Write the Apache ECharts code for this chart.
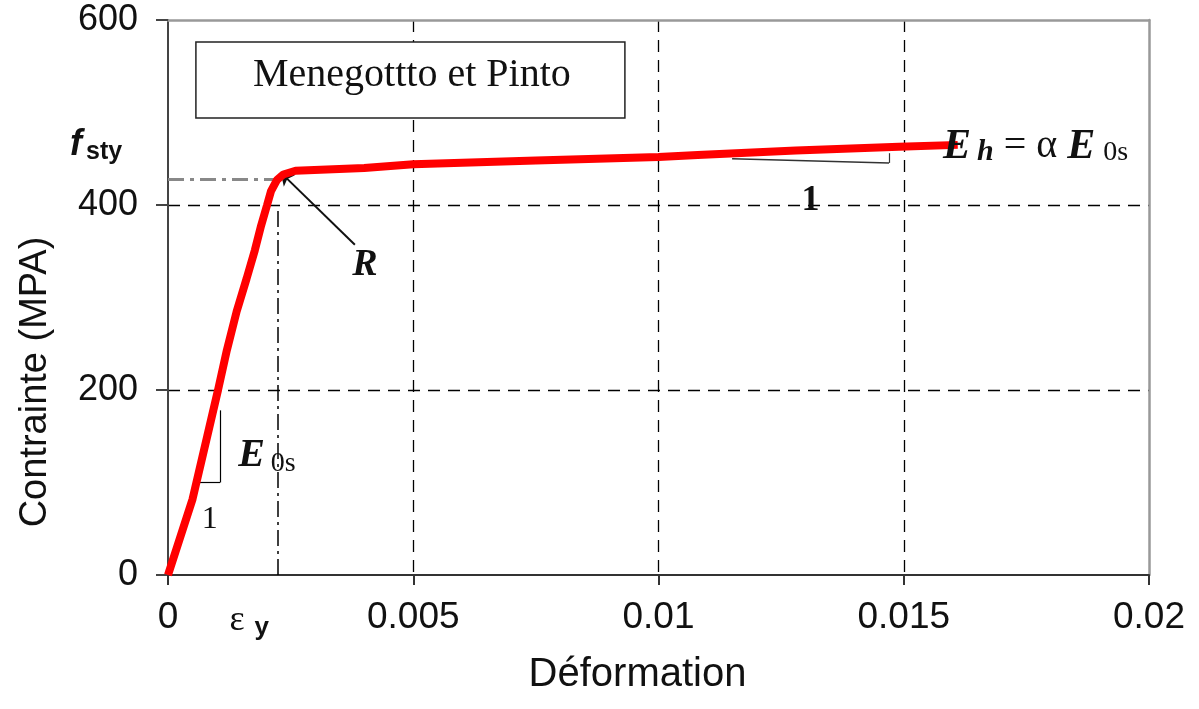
<!DOCTYPE html>
<html lang="fr">
<head>
    <meta charset="utf-8">
    <title>Menegotto et Pinto</title>
    <script type="text/javascript" src="https://cdn.jsdelivr.net/npm/echarts@6/dist/echarts.min.js"></script>
    <style>
        html, body { margin: 0; padding: 0; background: #fff; }
        #main { width: 1199px; height: 709px; }
    </style>
</head>
<body>
<div id="main"></div>

<script>
    // courbe contrainte / deformation
    var strain = [0, 0.0005, 0.0008, 0.00102, 0.0012, 0.0014, 0.0016, 0.00177, 0.0019,
        0.00202, 0.0021, 0.00222, 0.00235, 0.0026, 0.004, 0.005, 0.0075, 0.01, 0.0108,
        0.0128, 0.0149, 0.0161];
    var stress = [0, 82, 150, 200, 243, 285, 320, 351, 378,
        400, 415, 427, 433, 437, 440, 444, 448, 452, 454,
        459, 463, 465];

    var xTicks = [0, 0.005, 0.01, 0.015, 0.02];
    var yTicks = [0, 200, 400, 600];

    // annotations (en coordonnees du graphe)
    var epsY = 0.00223;
    var fsty = 428;
    var slopeLeft = [[0.00051, 100], [0.00106, 100], [0.00106, 178]];
    var slopeRight = [[0.0115, 450], [0.0147, 445.5], [0.0147, 456]];
    var arrowR = [[0.00381, 357], [0.0023, 435]];

    var curve = strain.map(function (x, i) { return [x, stress[i]]; });

    var chartDom = document.getElementById('main');
    var myChart = echarts.init(chartDom);
    var option;

    var dashed = { color: '#000', width: 1.3, type: [12, 8] };

    option = {
        animation: false,
        backgroundColor: '#fff',
        grid: { left: 168, top: 20, right: 50, bottom: 134 },
        xAxis: [{
            type: 'value',
            min: xTicks[0],
            max: xTicks[xTicks.length - 1],
            interval: 0.005,
            name: 'Déformation',
            nameLocation: 'middle',
            nameGap: 80,
            nameTextStyle: { fontFamily: 'Liberation Sans', fontSize: 40, color: '#111', padding: [0, 42, 0, 0] },
            axisLine: { onZero: false, lineStyle: { color: '#333', width: 2 } },
            axisTick: { show: true, length: 10, lineStyle: { color: '#333', width: 2 } },
            axisLabel: { fontFamily: 'Liberation Sans', fontSize: 37, color: '#111', margin: 24 },
            splitLine: { show: true, showMinLine: false, showMaxLine: false, lineStyle: dashed },
            z: 4
        }, {
            type: 'value',
            position: 'top',
            min: 0, max: 0.02, interval: 0.005,
            axisLine: { show: true, onZero: false, lineStyle: { color: '#999', width: 2.5 } },
            axisTick: { show: false }, axisLabel: { show: false }, splitLine: { show: false },
            z: 4
        }],
        yAxis: [{
            type: 'value',
            min: yTicks[0],
            max: yTicks[yTicks.length - 1],
            interval: 200,
            axisLine: { show: true, onZero: false, lineStyle: { color: '#444', width: 2 } },
            axisTick: { show: true, length: 12, lineStyle: { color: '#444', width: 2 } },
            axisLabel: { fontFamily: 'Liberation Sans', fontSize: 36, color: '#111', margin: 30 },
            splitLine: { show: true, showMinLine: false, showMaxLine: false, lineStyle: dashed },
            z: 4
        }, {
            type: 'value',
            position: 'right',
            min: 0, max: 600, interval: 200,
            axisLine: { show: true, onZero: false, lineStyle: { color: '#999', width: 2.5 } },
            axisTick: { show: false }, axisLabel: { show: false }, splitLine: { show: false },
            z: 4
        }],
        series: [
            {
                type: 'line',
                data: curve,
                showSymbol: false,
                symbol: 'none',
                lineStyle: { color: '#ff0000', width: 8 },
                z: 5
            },
            {
                // lignes de repere epsilon_y / f_sty et triangles de pente
                type: 'line',
                data: [],
                silent: true,
                markLine: {
                    symbol: 'none',
                    silent: true,
                    label: { show: false },
                    animation: false,
                    data: [
                        [{ coord: [epsY, 0], lineStyle: { color: '#000', width: 1.5, type: [16, 5, 3, 5] } },
                            { coord: [epsY, 400] }],
                        [{ coord: [0, fsty], lineStyle: { color: '#888', width: 3, type: [16, 6, 4, 6] } },
                            { coord: [epsY, fsty] }],
                        [{ coord: slopeLeft[0], lineStyle: { color: '#000', width: 1.2, type: 'solid' } },
                            { coord: slopeLeft[1] }],
                        [{ coord: slopeLeft[1], lineStyle: { color: '#000', width: 1.2, type: 'solid' } },
                            { coord: slopeLeft[2] }],
                        [{ coord: slopeRight[0], lineStyle: { color: '#333', width: 1.5, type: 'solid' } },
                            { coord: slopeRight[1] }],
                        [{ coord: slopeRight[1], lineStyle: { color: '#333', width: 1.2, type: 'solid' } },
                            { coord: slopeRight[2] }]
                    ]
                },
                z: 3
            },
            {
                type: 'line',
                data: [],
                silent: true,
                markLine: {
                    symbol: ['none', 'arrow'],
                    symbolSize: 12,
                    silent: true,
                    label: { show: false },
                    animation: false,
                    lineStyle: { color: '#111', width: 2, type: 'solid' },
                    data: [[{ coord: arrowR[0] }, { coord: arrowR[1] }]]
                },
                z: 6
            }
        ]
    };
    myChart.setOption(option);

    // textes des annotations, places a partir des coordonnees du graphe
    function px(p) { return myChart.convertToPixel({ gridIndex: 0 }, p); }
    var pBox = px([0.0001, 580]);
    var pR = px(arrowR[0]);
    var pE0 = px([0.00143, 140]);
    var pOne = px([0.00085, 60]);
    var pOneB = px([0.0131, 405]);
    var pEh = px([0.0158, 463]);
    var pF = px([0, 470]);
    var pEps = px([epsY, 0]);

    myChart.setOption({
        graphic: [
            {
                type: 'rect', z: 10,
                shape: { x: pBox[0] + 23, y: 42, width: 429, height: 76 },
                style: { fill: '#fff', stroke: '#222', lineWidth: 1.5 }
            },
            {
                type: 'text', z: 11, x: pBox[0] + 239, y: 75,
                style: { text: 'Menegottto et Pinto', font: '40px "Liberation Serif"', fill: '#111',
                    align: 'center', verticalAlign: 'middle' }
            },
            {
                type: 'text', z: 11, x: 36, y: 382, rotation: Math.PI / 2,
                style: { text: 'Contrainte (MPA)', font: '38px "Liberation Sans"', fill: '#111',
                    align: 'center', verticalAlign: 'middle' }
            },
            {
                type: 'text', z: 11, x: pF[0] - 98, y: pF[1] + 5,
                style: {
                    text: '{f|f}{s|sty}',
                    rich: {
                        f: { font: 'italic bold 36px "Liberation Sans"', fill: '#111' },
                        s: { font: 'bold 25px "Liberation Sans"', fill: '#111', padding: [14, 0, 0, 4] }
                    },
                    verticalAlign: 'middle'
                }
            },
            {
                type: 'text', z: 11, x: pEps[0] - 48, y: pEps[1] + 50,
                style: {
                    text: '{e|ε}{y|y}',
                    rich: {
                        e: { font: '36px "Liberation Serif"', fill: '#111', padding: [0, 0, 8, 0] },
                        y: { font: 'bold 26px "Liberation Sans"', fill: '#111', padding: [6, 0, 0, 10] }
                    },
                    verticalAlign: 'middle'
                }
            },
            {
                type: 'text', z: 11, x: pR[0] + 10, y: pR[1] + 20,
                style: { text: 'R', font: 'italic bold 38px "Liberation Serif"', fill: '#111',
                    align: 'center', verticalAlign: 'middle' }
            },
            {
                type: 'text', z: 11, x: pE0[0], y: pE0[1] + 10,
                style: {
                    text: '{E|E}{s|0s}',
                    rich: {
                        E: { font: 'italic bold 40px "Liberation Serif"', fill: '#111' },
                        s: { font: '28px "Liberation Serif"', fill: '#111', padding: [16, 0, 0, 6] }
                    },
                    verticalAlign: 'middle'
                }
            },
            {
                type: 'text', z: 11, x: pOne[0], y: pOne[1],
                style: { text: '1', font: '32px "Liberation Serif"', fill: '#111',
                    align: 'center', verticalAlign: 'middle' }
            },
            {
                type: 'text', z: 11, x: pOneB[0], y: pOneB[1],
                style: { text: '1', font: 'bold 36px "Liberation Serif"', fill: '#111',
                    align: 'center', verticalAlign: 'middle' }
            },
            {
                type: 'text', z: 11, x: pEh[0], y: pEh[1],
                style: {
                    text: '{E|E}{h|h}{q| = α }{E|E}{s|0s}',
                    rich: {
                        E: { font: 'italic bold 42px "Liberation Serif"', fill: '#111' },
                        h: { font: 'italic bold 30px "Liberation Serif"', fill: '#111', padding: [12, 0, 0, 6] },
                        q: { font: '40px "Liberation Serif"', fill: '#111' },
                        s: { font: '28px "Liberation Serif"', fill: '#111', padding: [12, 0, 0, 8] }
                    },
                    verticalAlign: 'middle'
                }
            }
        ]
    });
</script>
</body>
</html>
